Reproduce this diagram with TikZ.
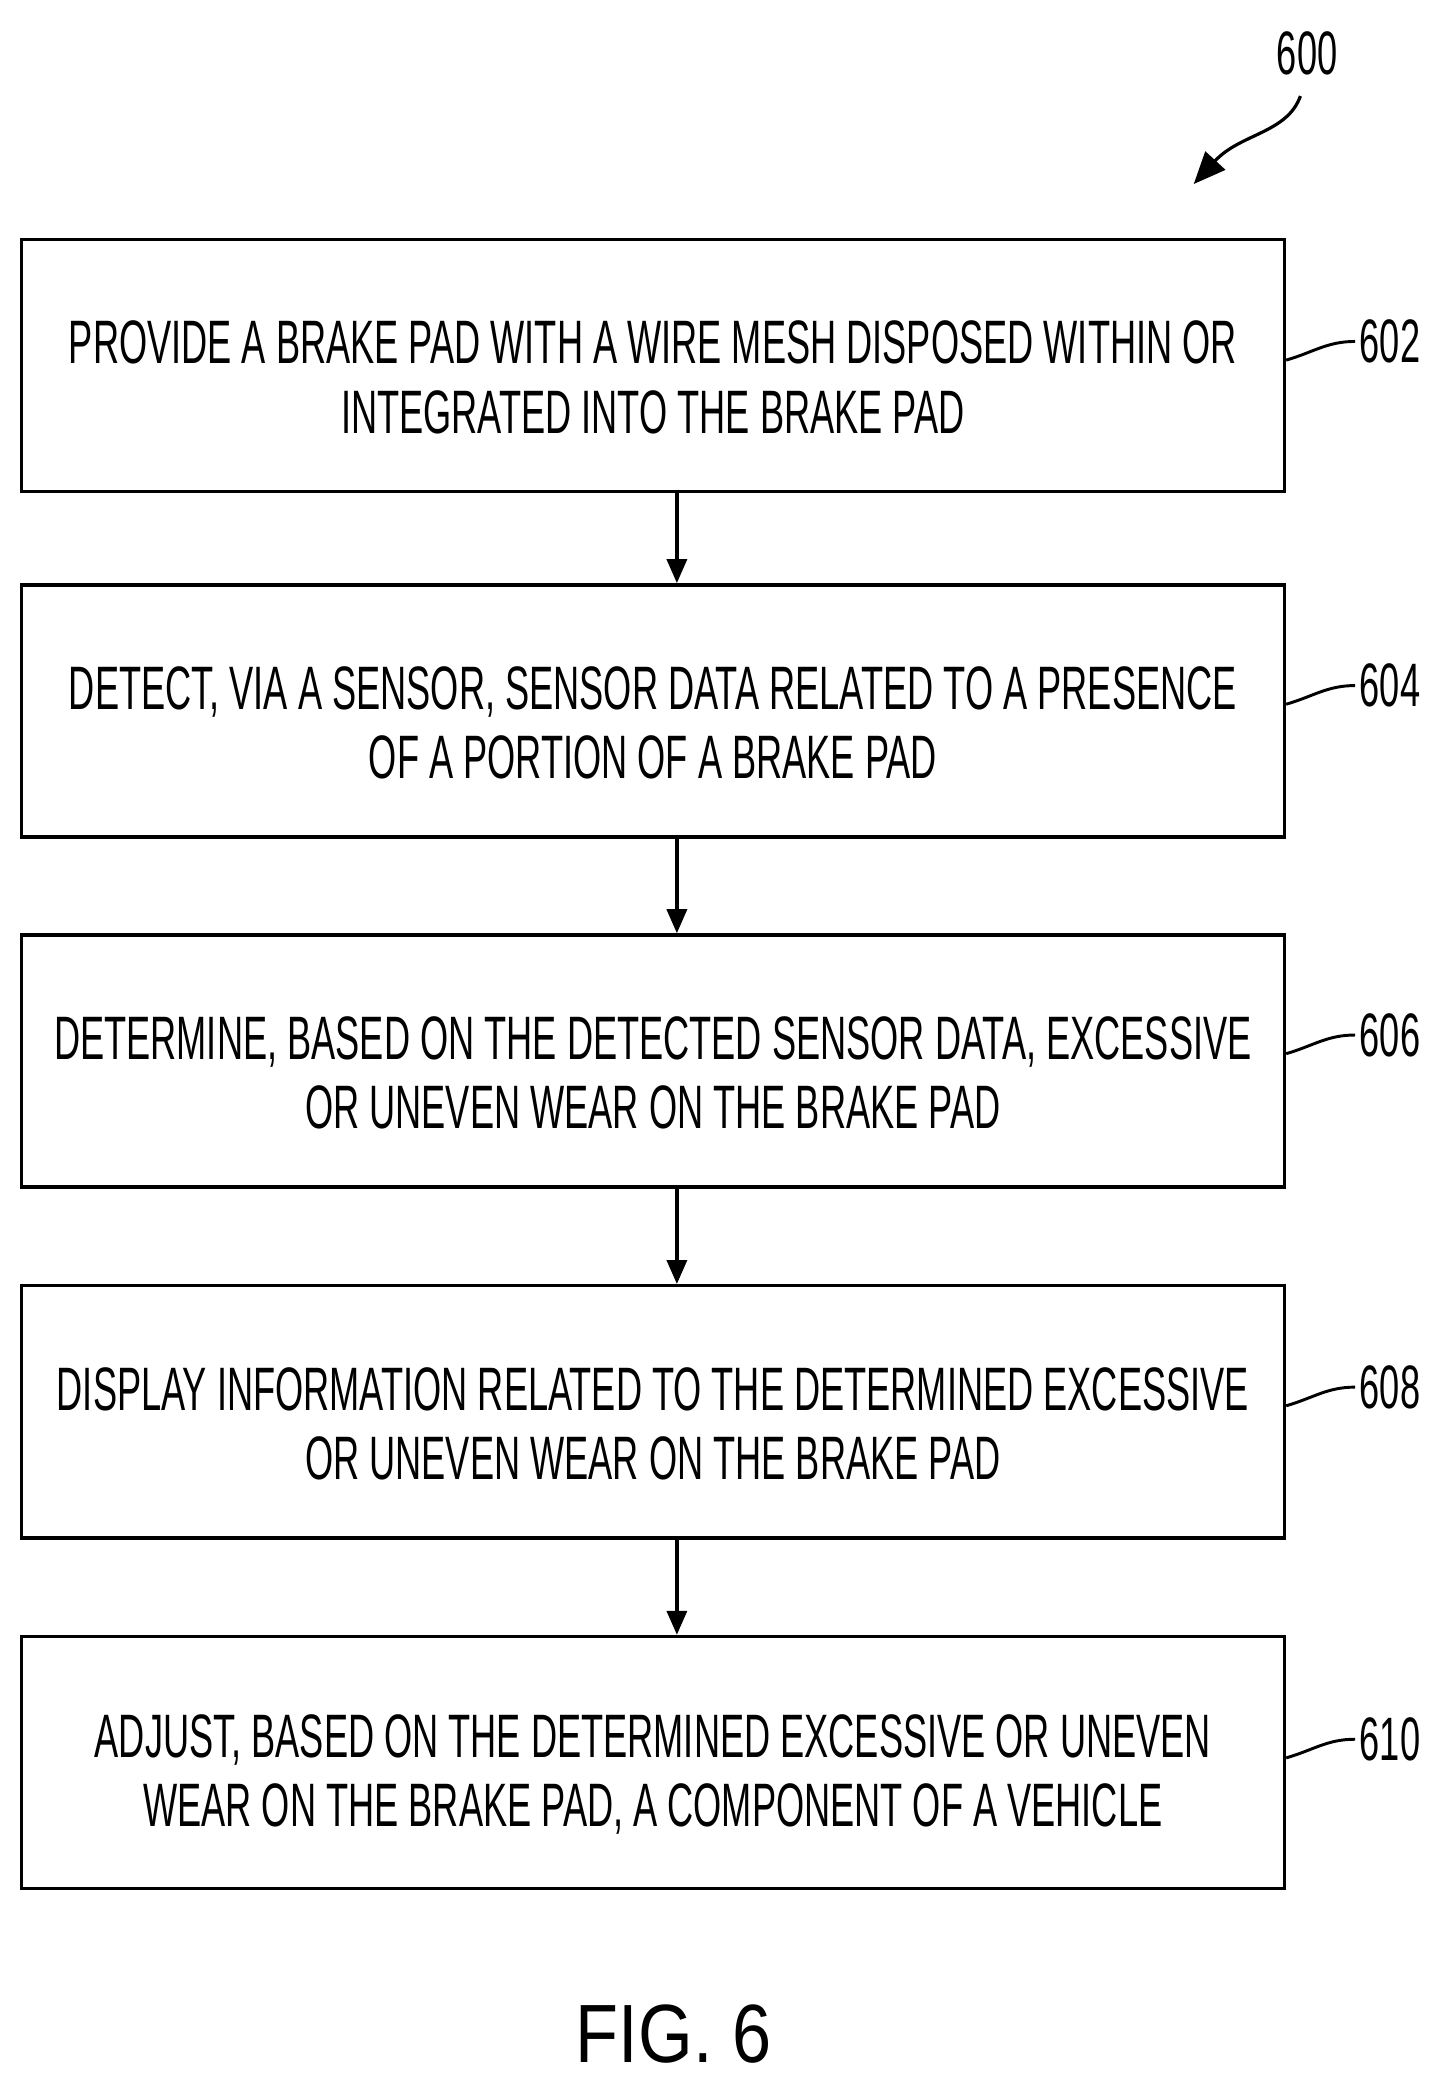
\documentclass[tikz,border=0pt]{standalone}
\usepackage{fontspec}
\setmainfont{Liberation Sans}
\usepackage{graphicx}
\usetikzlibrary{arrows.meta}
\newcommand{\nx}[1]{\scalebox{0.59}[1]{#1}}
\begin{document}
\begin{tikzpicture}[x=1pt,y=-1pt,
  box/.style={draw,line width=2.6pt,minimum width=947pt,minimum height=189pt,inner sep=0pt},
  txt/.style={align=center,font=\fontsize{46}{52}\selectfont},
  lab/.style={font=\fontsize{46}{46}\selectfont},
  arr/.style={line width=2.6pt,-{Triangle[length=18pt,width=15pt]}},
  lead/.style={line width=2.2pt}]
\useasboundingbox (0,0) rectangle (1080,1567);
\foreach \n/\y/\la/\lb in {
  b1/274/{PROVIDE A BRAKE PAD WITH A WIRE MESH DISPOSED WITHIN OR}/{INTEGRATED INTO THE BRAKE PAD},
  b2/533/{DETECT, VIA A SENSOR, SENSOR DATA RELATED TO A PRESENCE}/{OF A PORTION OF A BRAKE PAD},
  b3/795.5/{DETERMINE, BASED ON THE DETECTED SENSOR DATA, EXCESSIVE}/{OR UNEVEN WEAR ON THE BRAKE PAD},
  b4/1058.5/{DISPLAY INFORMATION RELATED TO THE DETERMINED EXCESSIVE}/{OR UNEVEN WEAR ON THE BRAKE PAD},
  b5/1321.5/{ADJUST, BASED ON THE DETERMINED EXCESSIVE OR UNEVEN}/{WEAR ON THE BRAKE PAD, A COMPONENT OF A VEHICLE}}{
  \node[box] (\n) at (489.5,\y) {};
  \node[txt] (\n t) at (489.5,{\y+9}) {\nx{\la}\\\nx{\lb}};
}
\foreach \a/\b in {b1/b2,b2/b3,b3/b4,b4/b5}
  \draw[arr] ([xshift=18pt]\a.south) -- ([xshift=18pt]\b.north);
\foreach \b/\t/\y in {b1/602/256,b2/604/514,b3/606/776,b4/608/1040,b5/610/1304}{
  \node[lab,anchor=west] (l\t) at (1016,\y) {\nx{\t}};
  \draw[lead] (\b.east|-0,{\y+14}) .. controls (985,{\y+8}) and (995,\y) .. (l\t.west);
}
\node[lab] (l600) at (980,40) {\nx{600}};
\coordinate (a600) at (895,138);
\draw[line width=2.4pt,-{Triangle[length=24pt,width=20pt]}] (975,72) .. controls (965,100) and (930,100) .. (a600);
\node[font=\fontsize{62}{62}\selectfont] (fig) at (505,1525) {\scalebox{0.85}[1]{FIG. 6}};
\end{tikzpicture}
\end{document}
